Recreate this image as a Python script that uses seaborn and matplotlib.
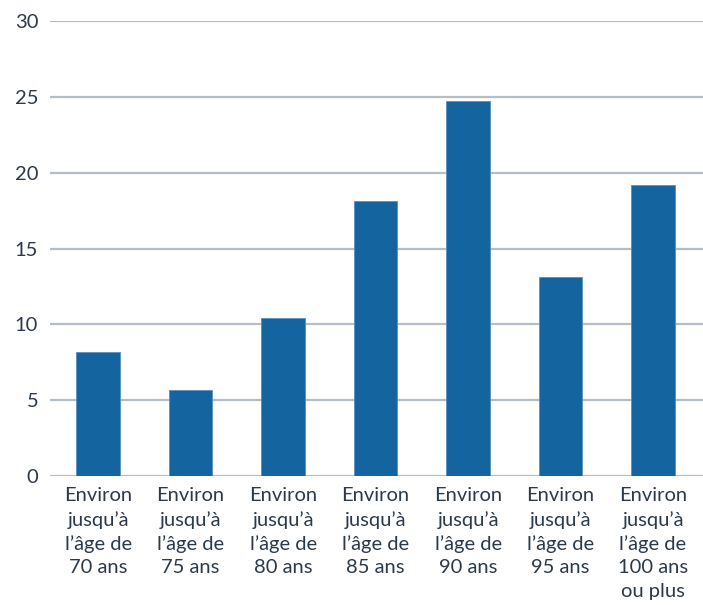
import matplotlib
matplotlib.use("Agg")
import matplotlib.pyplot as plt
import seaborn as sns
import pandas as pd

categories = [
    "Environ\njusqu\u2019\u00e0\nl\u2019\u00e2ge de\n70 ans",
    "Environ\njusqu\u2019\u00e0\nl\u2019\u00e2ge de\n75 ans",
    "Environ\njusqu\u2019\u00e0\nl\u2019\u00e2ge de\n80 ans",
    "Environ\njusqu\u2019\u00e0\nl\u2019\u00e2ge de\n85 ans",
    "Environ\njusqu\u2019\u00e0\nl\u2019\u00e2ge de\n90 ans",
    "Environ\njusqu\u2019\u00e0\nl\u2019\u00e2ge de\n95 ans",
    "Environ\njusqu\u2019\u00e0\nl\u2019\u00e2ge de\n100 ans\nou plus",
]
values = [8.2, 5.7, 10.4, 18.1, 24.7, 13.1, 19.2]
yticks = [0, 5, 10, 15, 20, 25, 30]

sns.set_theme(style="white")
plt.rcParams["font.family"] = ["Lato", "DejaVu Sans"]

text_color = "#2b3a4a"
bar_color = "#1464a0"
grid_color = "#b4bec8"

df = pd.DataFrame({"cat": categories, "val": values})

fig = plt.figure(figsize=(7.03, 6.05), dpi=100)
ax = fig.add_axes([50 / 703, 1 - 476 / 605, 653 / 703, 455 / 605])

sns.barplot(data=df, x="cat", y="val", color=bar_color, width=0.47,
            saturation=1, edgecolor="#5b8fbf", linewidth=0.6, ax=ax, zorder=3)

ax.set_ylim(0, 30)
ax.set_xlim(-0.52, 6.54)
ax.set_yticks(yticks)
for y in yticks:
    ax.axhline(y, color=grid_color, linewidth=1.6, zorder=1)

for s in ax.spines.values():
    s.set_visible(False)
ax.set_xlabel("")
ax.set_ylabel("")
ax.tick_params(axis="both", length=0, labelsize=14.5, colors=text_color)
ax.tick_params(axis="y", pad=8.5)
ax.tick_params(axis="x", pad=8)
for lbl in ax.get_xticklabels():
    lbl.set_linespacing(1.45)
    lbl.set_horizontalalignment("center")

fig.savefig("out.png", dpi=100, facecolor="white")
